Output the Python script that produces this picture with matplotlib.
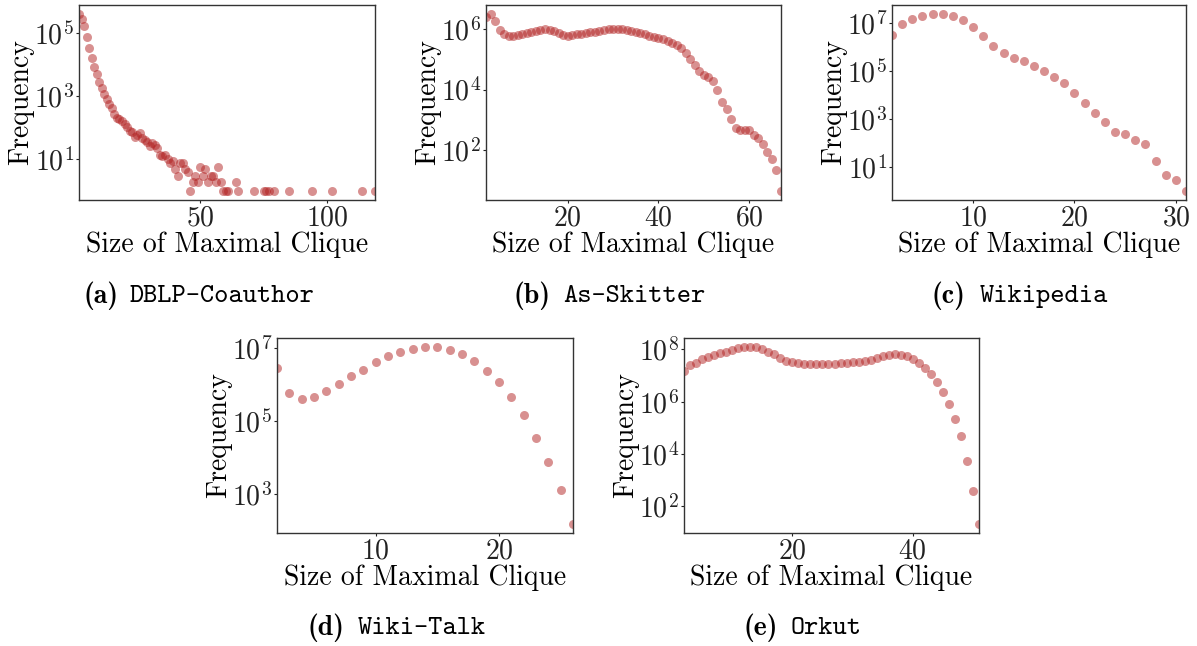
import matplotlib
matplotlib.use("Agg")
import matplotlib.pyplot as plt

plt.rcParams['font.family'] = ['cmr10', 'DejaVu Sans']
plt.rcParams['mathtext.fontset'] = 'cm'
plt.rcParams['axes.formatter.use_mathtext'] = True
plt.rcParams['axes.unicode_minus'] = False

# DBLP-Coauthor
dblp_x = list(range(2, 62)) + [64, 65, 71, 75, 76, 77, 79, 85, 94, 102, 114, 119]
dblp_y = [4.0e5, 2.8e5, 1.6e5, 7.6e4, 3.3e4, 1.6e4, 8.5e3, 5.0e3, 2.9e3, 1.8e3,
          1.2e3, 810, 575, 410, 280, 205, 186, 166, 132, 107,
          81, 76, 52, 59, 68, 47, 42, 36, 26, 34,
          29, 23, 14, 13, 14, 10, 8, 9, 5, 3,
          8, 8, 5, 4, 1, 2, 3, 2, 6, 3,
          5, 2, 3, 3, 2, 6, 2, 1, 1, 1,
          2, 1, 1, 1, 1, 1, 1, 1, 1, 1, 1, 1]

# As-Skitter
skitter_x = list(range(2, 68))
skitter_y = [2.4e6, 3.1e6, 1.8e6, 9.3e5, 6.9e5, 5.9e5, 5.9e5, 6.2e5, 6.9e5, 7.4e5,
             7.9e5, 8.5e5, 9.3e5, 9.8e5, 9.3e5, 8.3e5, 7.2e5, 6.3e5, 6.0e5, 6.2e5,
             6.5e5, 6.9e5, 7.2e5, 7.6e5, 7.9e5, 8.5e5, 9.1e5, 9.5e5, 1.0e6, 1.02e6,
             9.8e5, 9.1e5, 8.3e5, 7.8e5, 7.2e5, 6.8e5, 6.0e5, 5.5e5, 5.0e5, 4.6e5,
             4.0e5, 3.5e5, 2.9e5, 2.3e5, 1.6e5, 1.0e5, 6.2e4, 4.0e4, 3.0e4, 2.6e4,
             1.9e4, 1.0e4, 3.9e3, 2.2e3, 1.1e3, 560, 480, 480, 450, 310,
             257, 155, 87, 52, 23, 4.5]

# Wikipedia
wiki_x = list(range(2, 32))
wiki_y = [3.2e6, 9.3e6, 1.5e7, 1.9e7, 2.3e7, 2.35e7, 1.9e7, 1.26e7, 6.8e6, 2.9e6,
          1.1e6, 5.8e5, 3.5e5, 2.5e5, 1.6e5, 1.0e5, 5.8e4, 3.0e4, 1.2e4, 4.8e3,
          1.8e3, 760, 295, 234, 129, 93, 18, 4.9, 3.0, 1.0]

# Wiki-Talk
talk_x = list(range(2, 27))
talk_y = [2.9e6, 5.8e5, 4.1e5, 4.6e5, 6.6e5, 1.05e6, 1.7e6, 2.6e6, 4.2e6, 6.0e6,
          7.9e6, 9.8e6, 1.1e7, 1.1e7, 9.1e6, 6.9e6, 4.5e6, 2.4e6, 1.15e6, 4.5e5,
          1.45e5, 3.5e4, 7.6e3, 1.3e3, 145]

# Orkut
orkut_x = list(range(2, 52))
orkut_y = [1.5e7, 2.5e7, 3.1e7, 4.2e7, 5.2e7, 6.2e7, 7.2e7, 8.3e7, 9.5e7, 1.12e8,
           1.23e8, 1.26e8, 1.23e8, 1.05e8, 8.3e7, 6.5e7, 4.8e7, 3.6e7, 3.2e7, 3.0e7,
           2.9e7, 2.9e7, 2.9e7, 2.9e7, 2.9e7, 2.9e7, 3.0e7, 3.1e7, 3.2e7, 3.4e7,
           3.6e7, 4.1e7, 4.7e7, 5.5e7, 6.0e7, 6.5e7, 6.2e7, 5.8e7, 4.3e7, 3.0e7,
           1.95e7, 1.12e7, 5.5e6, 2.3e6, 8.1e5, 2.2e5, 4.9e4, 5.6e3, 380, 21]

names = ["DBLP-Coauthor", "As-Skitter", "Wikipedia", "Wiki-Talk", "Orkut"]
letters = ["(a)", "(b)", "(c)", "(d)", "(e)"]
xs = [dblp_x, skitter_x, wiki_x, talk_x, orkut_x]
ys = [dblp_y, skitter_y, wiki_y, talk_y, orkut_y]
xticks = [[50, 100], [20, 40, 60], [10, 20, 30], [10, 20], [20, 40]]
yexps = [[1, 3, 5], [2, 4, 6], [1, 3, 5, 7], [3, 5, 7], [2, 4, 6, 8]]

W, H = 1197, 646
# axes boxes in pixels: left, top, right, bottom
boxes = [(79, 5, 375, 200), (486, 5, 781, 200), (892, 5, 1186, 200),
         (277, 338, 573, 533), (684, 338, 979, 533)]
# caption: right edge of letter, left edge of name, vertical centre
caps = [(119, 130, 296), (550, 563, 296), (965, 980, 296),
        (344, 358, 628), (778, 791, 628)]

fig = plt.figure(figsize=(W / 100, H / 100), dpi=100)

for i in range(5):
    l, t, r, b = boxes[i]
    ax = fig.add_axes([l / W, 1 - b / H, (r - l) / W, (b - t) / H])
    ax.scatter(xs[i], ys[i], s=42, color="#b22222", alpha=0.5, linewidths=0)
    ax.set_yscale("log")
    ax.set_xlim(min(xs[i]), max(xs[i]))
    ax.set_xticks(xticks[i])
    ax.set_yticks([10.0 ** e for e in yexps[i]])
    ax.minorticks_off()
    ax.tick_params(labelsize=20, length=2.5, width=0.8, pad=1, colors="#222222")
    for sp in ax.spines.values():
        sp.set_color("#333333")
        sp.set_linewidth(1.0)
    ax.set_xlabel("Size of Maximal Clique", fontsize=20, labelpad=0)
    ax.set_ylabel("Frequency", fontsize=20, labelpad=0)

    lr, nl, cy = caps[i]
    fig.text(lr / W, 1 - cy / H, letters[i], family="cmb10", fontsize=20,
             ha="right", va="center")
    fig.text(nl / W, 1 - cy / H, names[i], family="cmtt10", fontsize=19.5,
             ha="left", va="center")

fig.savefig("out.png", dpi=100)
